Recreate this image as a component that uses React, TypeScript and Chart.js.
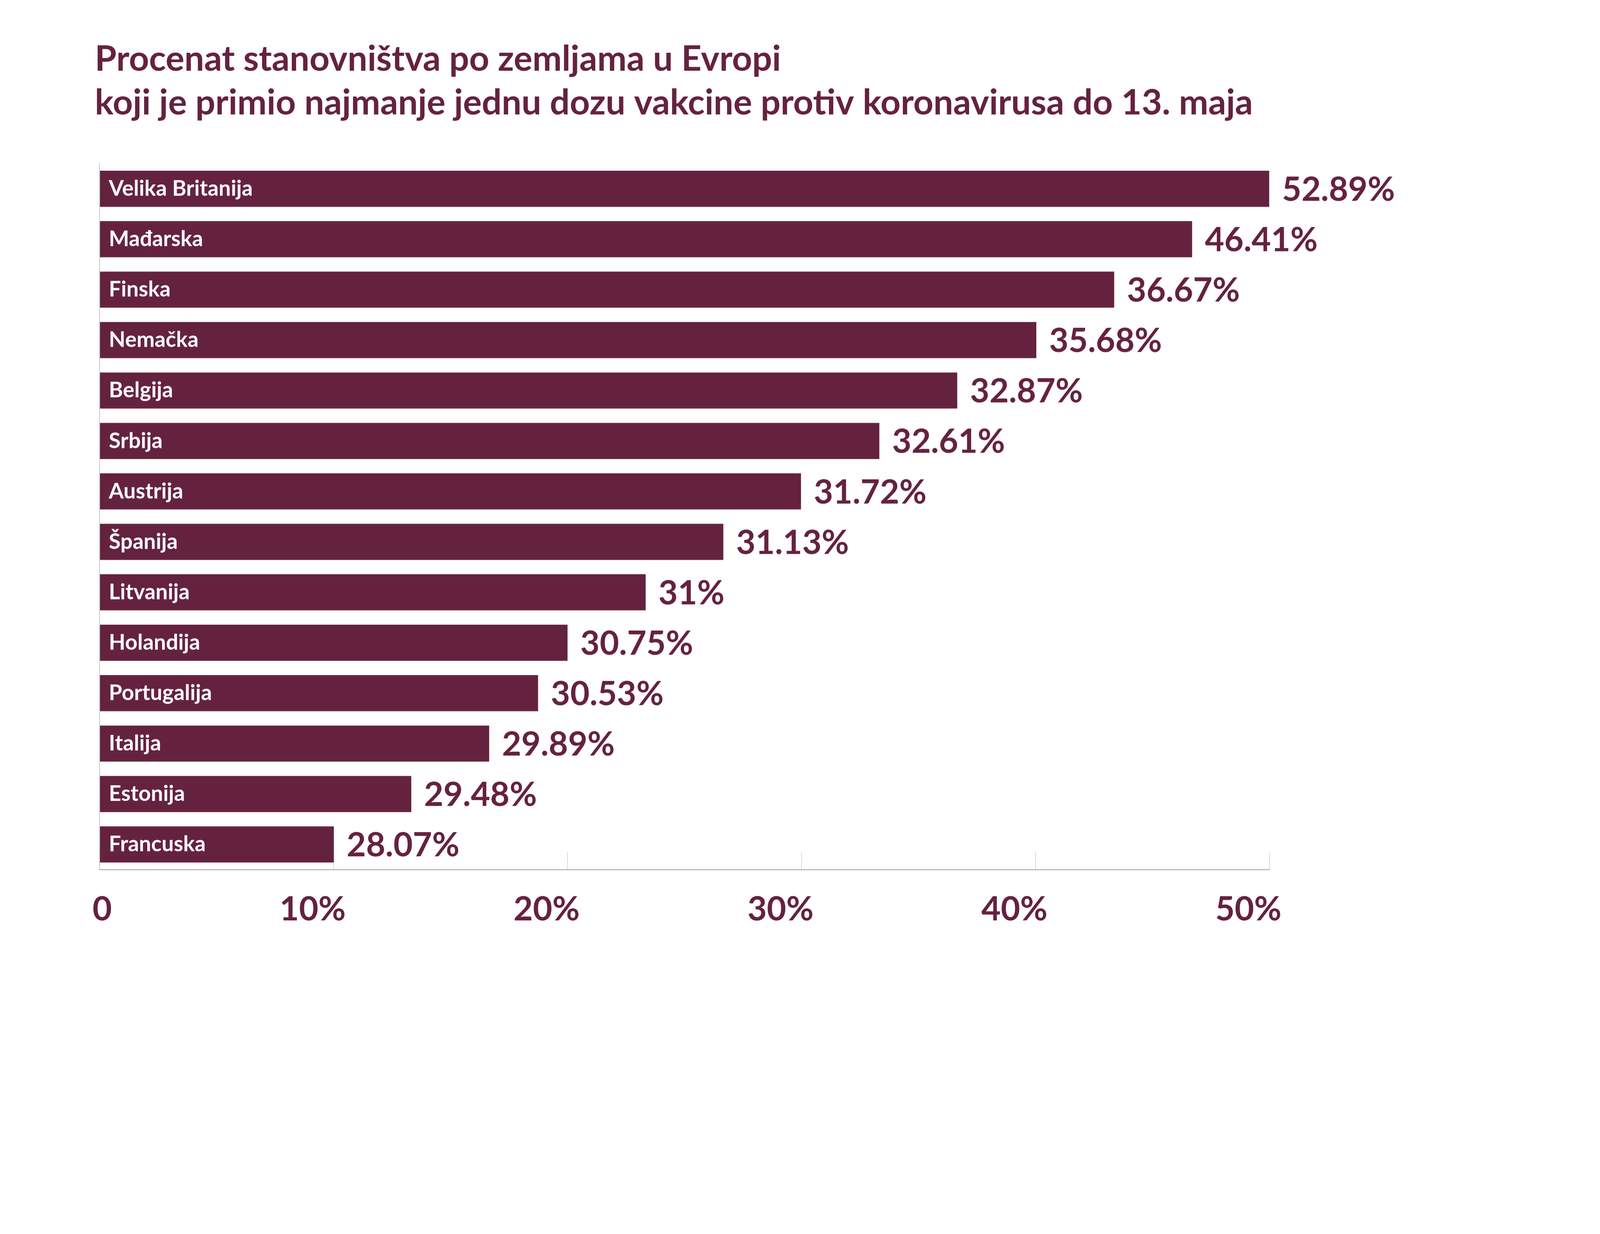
import { useEffect, useRef, useState } from 'react'
import { Chart, registerables } from 'chart.js'

Chart.register(...registerables)

const titleLines = [
  'Procenat stanovništva po zemljama u Evropi',
  'koji je primio najmanje jednu dozu vakcine protiv koronavirusa do 13. maja',
]

const countries = [
  'Velika Britanija',
  'Mađarska',
  'Finska',
  'Nemačka',
  'Belgija',
  'Srbija',
  'Austrija',
  'Španija',
  'Litvanija',
  'Holandija',
  'Portugalija',
  'Italija',
  'Estonija',
  'Francuska',
]

// printed values next to each bar
const shares = [52.89, 46.41, 36.67, 35.68, 32.87, 32.61, 31.72, 31.13, 31, 30.75, 30.53, 29.89, 29.48, 28.07]

// bar lengths as drawn in the original graphic (they are not to scale with the printed values)
const barLengths = [50, 46.7, 43.37, 40.04, 36.66, 33.33, 29.98, 26.66, 23.34, 20, 18.74, 16.65, 13.32, 10.01]

const xTickLabels = ['0', '10%', '20%', '30%', '40%', '50%']

const maroon = '#65223f'
const fontFamily = 'Lato, Roboto, sans-serif'

// the design was measured on a 5264 x 3160 picture
const DESIGN_WIDTH = 5264
const DESIGN_HEIGHT = 3160

export default function App() {
  const canvasRef = useRef<HTMLCanvasElement>(null)
  const chartRef = useRef<Chart | null>(null)
  const [k] = useState(() => window.innerWidth / DESIGN_WIDTH)

  useEffect(() => {
    if (!canvasRef.current) return
    if (chartRef.current) chartRef.current.destroy()

    const px = (v: number) => v * k

    const valueLabels = {
      id: 'valueLabels',
      afterDatasetsDraw(chart: Chart) {
        const { ctx } = chart
        const meta = chart.getDatasetMeta(0)
        ctx.save()
        ctx.fillStyle = maroon
        ctx.font = `700 ${px(110)}px ${fontFamily}`
        ctx.textAlign = 'left'
        ctx.textBaseline = 'middle'
        meta.data.forEach((bar: any, i: number) => {
          ctx.fillText(`${shares[i]}%`, bar.x + px(42), bar.y + px(4))
        })
        ctx.restore()
      },
    }

    chartRef.current = new Chart(canvasRef.current, {
      type: 'bar',
      data: {
        labels: countries,
        datasets: [
          {
            data: barLengths,
            backgroundColor: maroon,
            borderWidth: 0,
            barPercentage: 0.716,
            categoryPercentage: 1,
          },
        ],
      },
      plugins: [valueLabels],
      options: {
        indexAxis: 'y',
        animation: false,
        responsive: true,
        maintainAspectRatio: false,
        layout: {
          padding: { left: px(312), right: px(1088), top: 0, bottom: 0 },
        },
        plugins: {
          legend: { display: false },
          tooltip: { enabled: false },
          title: {
            display: true,
            align: 'start',
            text: titleLines,
            color: maroon,
            font: { family: fontFamily, size: px(115.5), weight: 'bold', lineHeight: 1.2468 },
            padding: { top: px(123.8), bottom: px(126.2) },
          },
        },
        scales: {
          x: {
            min: 0,
            max: 50,
            afterFit: (scale: any) => {
              scale.height = px(299)
              scale.paddingLeft = 0
              scale.paddingRight = 0
            },
            grid: {
              drawOnChartArea: false,
              drawTicks: true,
              tickLength: -px(58),
              color: '#cfcfcf',
              lineWidth: px(2),
            },
            border: { display: true, color: '#a6a6a6', width: px(3) },
            ticks: {
              stepSize: 10,
              align: 'end',
              labelOffset: px(40),
              padding: px(123.5),
              color: maroon,
              font: { family: fontFamily, size: px(110), weight: 'bold' },
              callback: (_v: any, i: number) => xTickLabels[i],
            },
          },
          y: {
            afterFit: (scale: any) => {
              scale.width = px(16)
              scale.paddingTop = 0
              scale.paddingBottom = 0
            },
            grid: { display: false, drawTicks: false },
            border: { display: true, color: '#b8b8b8', width: px(2) },
            ticks: {
              mirror: true,
              padding: px(30),
              z: 1,
              color: '#ffffff',
              font: { family: fontFamily, size: px(71), weight: 'bold' },
            },
          },
        },
      },
    })

    return () => {
      if (chartRef.current) {
        chartRef.current.destroy()
        chartRef.current = null
      }
    }
  }, [k])

  return (
    <div
      style={{
        position: 'fixed',
        left: 0,
        top: 0,
        width: DESIGN_WIDTH * k,
        height: DESIGN_HEIGHT * k,
        background: '#fff',
      }}
    >
      <canvas ref={canvasRef} />
    </div>
  )
}
